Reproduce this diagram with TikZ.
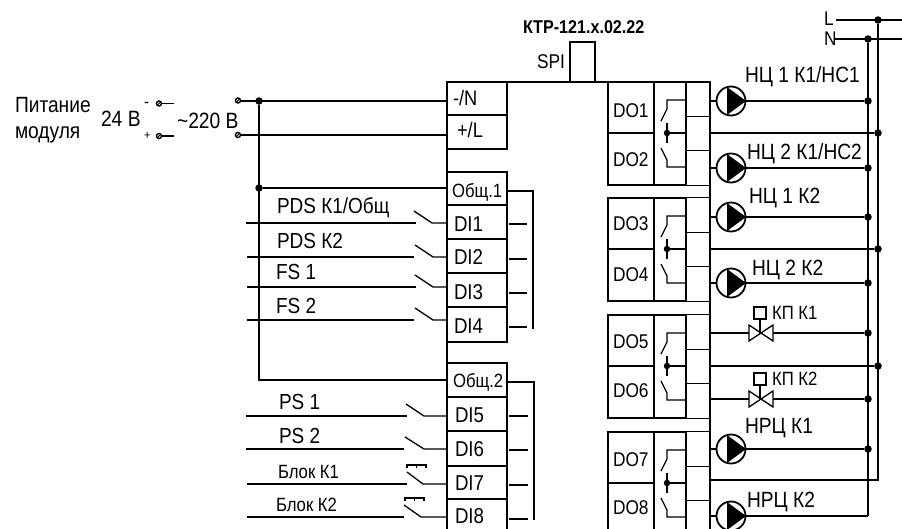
\documentclass[tikz,border=0pt]{standalone}
\usepackage{fontspec}
\setmainfont[FakeStretch=0.87]{Liberation Sans}
\newcounter{lblno}
\tikzset{
  wire/.style={line width=1.3pt,line join=miter},
  term/.style={draw,line width=1.3pt,minimum width=60pt,inner sep=0pt,outer sep=0pt},
  cellbox/.style={draw,line width=1.3pt,inner sep=0pt,outer sep=0pt},
  dotn/.style={circle,fill=black,inner sep=0pt,minimum size=7.5pt},
  pumpn/.style={circle,draw,line width=1.8pt,inner sep=0pt,minimum size=29pt,outer sep=0pt},
  lbl/.style={anchor=base west,inner sep=0pt,outer sep=0pt}
}
\newcommand{\txt}[4]{\stepcounter{lblno}\pgfmathsetmacro{\fsz}{#3*1.13}\node[lbl] (t\arabic{lblno}) at (#1,#2) {\fontsize{\fsz}{\fsz}\selectfont #4};}
\newcommand{\doblock}[3]{%
  \node[cellbox,minimum width=46pt,minimum height=51pt] (#1a) at (631,#2+25.5) {};
  \node[cellbox,minimum width=46pt,minimum height=52pt] (#1b) at (631,#2+77) {};
  \node[cellbox,minimum width=32pt,minimum height=103pt] (#1r) at (670,#2+51.5) {};
  \node[cellbox,minimum width=24pt,minimum height=34.5pt] (#1x) at (698,#2+17) {};
  \node[cellbox,minimum width=24pt,minimum height=34pt] (#1y) at (698,#2+51.5) {};
  \node[cellbox,minimum width=24pt,minimum height=34.5pt] (#1z) at (698,#2+86) {};
  \node[dotn,minimum size=6.5pt] (#1d) at (667,#2+51) {};
  \draw[wire] (686,#2+18) -- (667,#2+18) -- (667,#2+27) -- (661,#2+39);
  \draw[wire] (667,#2+41) -- (667,#2+61);
  \draw[wire] (#1d) -- (686,#2+51);
  \draw[wire] (661,#2+66) -- (667,#2+78) -- (667,#2+85) -- (686,#2+85);
  \coordinate (#1m) at (710,#2+51);
}
\newcommand{\pump}[2]{%
  \node[pumpn] (#1) at (731,#2) {};
  \fill (727,#2-14) -- (727,#2+14) -- (746,#2) -- cycle;
}
\newcommand{\valve}[2]{%
  \coordinate (#1) at (761,#2);
  \coordinate (#1w) at (749,#2);
  \coordinate (#1e) at (773,#2);
  \draw[wire] (749,#2-8) -- (773,#2+8) -- (773,#2-8) -- (749,#2+8) -- cycle;
  \node[draw,line width=1.3pt,minimum size=12pt,inner sep=0pt,outer sep=0pt] (#1s) at (760,#2-20) {};
  \draw[wire] (#1s.south) -- (760,#2);
}
\newcommand{\swi}[6]{%
  \coordinate (#6l) at (#2,#1);
  \draw[wire] (#6l) -- (#3,#1);
  \draw[wire] (#4,#1-12) -- (#5,#1) -- (#6.west |- 0,#1);
}
\begin{document}
\begin{tikzpicture}[x=1pt,y=-1pt]
\clip (0,0) rectangle (902,528);
\fill[white] (0,0) rectangle (902,528);
% module terminals left
\node[term,minimum height=33.5pt] (n) at (477,98.5) {};
\node[term,minimum height=34pt] (l) at (477,132) {};
\node[term,minimum height=33pt] (c1) at (477,188.5) {};
\node[term,minimum height=34pt] (di1) at (477,222) {};
\node[term,minimum height=34pt] (di2) at (477,256) {};
\node[term,minimum height=34pt] (di3) at (477,290) {};
\node[term,minimum height=35pt] (di4) at (477,324.5) {};
\node[term,minimum height=34pt] (c2) at (477,380) {};
\node[term,minimum height=34pt] (di5) at (477,414) {};
\node[term,minimum height=35pt] (di6) at (477,448.5) {};
\node[term,minimum height=33pt] (di7) at (477,482.5) {};
\node[term,minimum height=36pt] (di8) at (477,517) {};
% DO blocks
\doblock{A}{82}{}
\doblock{B}{198}{}
\doblock{C}{315}{}
\doblock{E}{432}{}
% outline
\draw[line width=2pt] (447,528) -- (447,82) -- (710,82) -- (710,528);
\node[draw,line width=1.4pt,minimum width=25pt,minimum height=40pt,inner sep=0pt,outer sep=0pt,fill=white] (spi) at (582.5,62) {};
% power
\coordinate (t1l) at (238,101);
\coordinate (t2l) at (238,135);
\node[dotn] (j1) at (259,101) {};
\node[dotn] (j2) at (259,188) {};
\draw[wire] (t1l) -- (n.west |- t1l);
\draw[wire] (t2l) -- (l.west |- t2l);
\draw[wire] (j2) -- (c1.west |- j2);
\draw[wire] (j1) -- (259,380) -- (c2.west);
\foreach \px/\py in {238/100.5,238/135,159/103.5,159/136}{
  \draw[line width=1.4pt,fill=white] (\px,\py) circle (2.5pt);
  \draw[line width=.9pt] (\px-2,\py+2) -- (\px+2,\py-2);
}
\coordinate (t3) at (159,103.5);
\coordinate (t4) at (159,136);
\draw[wire] (t3) ++(3,0) -- (174,103.5);
\draw[wire] (t4) ++(3,0) -- (174,136);
% DI inputs
\swi{223}{246}{416}{414}{432}{di1}
\swi{257}{247}{414}{415}{433}{di2}
\swi{287}{247}{416}{415}{433}{di3}
\swi{320}{247}{414}{415}{433}{di4}
\swi{416}{246}{407}{406}{424}{di5}
\swi{449}{246}{404}{405}{424}{di6}
\swi{484}{247}{407}{407}{423}{di7}
\swi{517}{247}{404}{404}{421}{di8}
\draw[wire] (407,468) -- (407,465) -- (426,465) -- (426,468) (416.5,465) -- (416.5,468);
\draw[wire] (405,501) -- (405,498) -- (424,498) -- (424,501) (414.5,498) -- (414.5,501);
% commons on right of DI
\draw[wire] (c1.east |- 0,191) -- (533,191) -- (533,329);
\foreach \nm/\yy in {di1/224,di2/259,di3/293,di4/327}{\draw[wire] (\nm.east |- 0,\yy) ++(2,0) -- (527,\yy);}
\draw[wire] (c2.east |- 0,382) -- (534,382) -- (534,520);
\foreach \nm/\yy in {di5/416,di6/450,di7/485,di8/519}{\draw[wire] (\nm.east |- 0,\yy) ++(2,0) -- (528,\yy);}
% buses
\node[dotn] (jL) at (878,20) {};
\node[dotn] (jN) at (868,39) {};
\coordinate (Lin) at (836,20);
\coordinate (Nin) at (835,39);
\draw[wire] (Lin) -- (902,20);
\draw[wire] (Nin) -- (902,39);
\draw[wire] (jL) -- (878,480) -- (710,480);
\draw[wire] (jN) -- (868,516);
% loads
\pump{p1}{101}
\pump{p2}{168}
\pump{p3}{217}
\pump{p4}{283}
\pump{p5}{449}
\pump{p6}{516}
\valve{v1}{333}
\valve{v2}{399}
\foreach \pp/\yy in {p1/101,p2/168,p3/217,p4/283,p5/449}{
  \node[dotn] (d\pp) at (868,\yy) {};
  \draw[wire] (\pp.east) -- (d\pp);
  \draw[wire] (710,\yy) -- (\pp.west);
}
\draw[wire] (710,516) -- (p6.west);
\draw[wire] (p6.east) -- (868,516);
\node[dotn] (dv1) at (868,333) {};
\node[dotn] (dv2) at (868,399) {};
\draw[wire] (710,333) -- (v1w);
\draw[wire] (710,399) -- (v2w);
\draw[wire] (v1e) -- (dv1);
\draw[wire] (v2e) -- (dv2);
% L returns
\node[dotn] (dA) at (878,133) {};
\node[dotn] (dB) at (878,249) {};
\node[dotn] (dC) at (878,366) {};
\draw[wire] (Am) -- (dA);
\draw[wire] (Bm) -- (dB);
\draw[wire] (Cm) -- (dC);
% texts
\txt{523}{33}{16.4}{\bfseries КТР-121.x.02.22}
\txt{537}{68}{17.6}{SPI}
\txt{15}{112}{19.5}{Питание}
\txt{15}{138}{19.5}{модуля}
\txt{101}{126}{19.6}{24 В}
\txt{177}{128}{19.6}{\char"7E 220 В}
\txt{144}{107}{15}{-}
\txt{144}{139}{11}{+}
\txt{824}{25}{17.5}{L}
\txt{824}{45}{17.5}{N}
\txt{453}{105}{18.6}{-/N}
\txt{457}{137}{18.6}{+/L}
\txt{452}{197}{17}{Общ.1}
\txt{453}{387}{17}{Общ.2}
\txt{454}{231}{19}{DI1}
\txt{454}{264}{19}{DI2}
\txt{454}{299}{19}{DI3}
\txt{454}{333}{19}{DI4}
\txt{455}{422}{19}{DI5}
\txt{455}{456}{19}{DI6}
\txt{455}{490}{19}{DI7}
\txt{455}{523}{19}{DI8}
\txt{613}{117}{17.6}{DO1}
\txt{613}{166}{17.6}{DO2}
\txt{613}{230}{17.6}{DO3}
\txt{613}{281}{17.6}{DO4}
\txt{613}{348}{17.6}{DO5}
\txt{613}{397}{17.6}{DO6}
\txt{613}{466}{17.6}{DO7}
\txt{613}{514}{17.6}{DO8}
\txt{277}{213}{19.3}{PDS К1/Общ}
\txt{277}{248}{19.3}{PDS К2}
\txt{276}{279}{19.3}{FS 1}
\txt{276}{313}{19.3}{FS 2}
\txt{279}{409}{19.3}{PS 1}
\txt{279}{443}{19.3}{PS 2}
\txt{278}{478}{17}{Блок К1}
\txt{276}{511}{17}{Блок К2}
\txt{745}{82}{19.5}{НЦ 1 К1/НС1}
\txt{747}{159}{19.5}{НЦ 2 К1/НС2}
\txt{749}{203}{19.5}{НЦ 1 К2}
\txt{752}{275}{19.5}{НЦ 2 К2}
\txt{772}{319}{17}{КП К1}
\txt{772}{385}{17}{КП К2}
\txt{745}{433}{19.5}{НРЦ К1}
\txt{747}{507}{19.5}{НРЦ К2}
\end{tikzpicture}
\end{document}
